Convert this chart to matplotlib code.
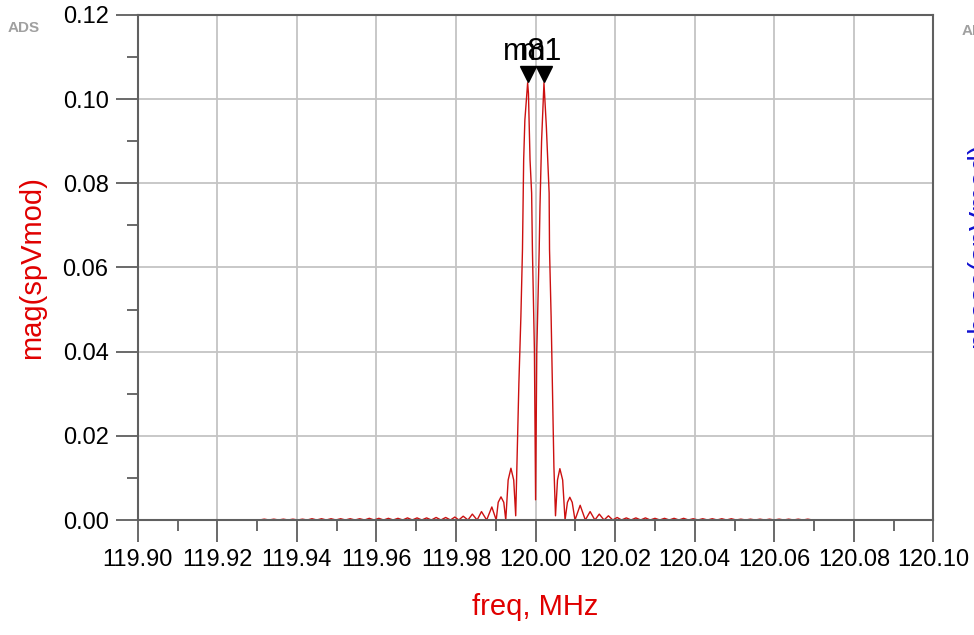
import matplotlib.pyplot as plt
from matplotlib.ticker import MultipleLocator, FormatStrFormatter
from matplotlib import transforms

plt.rcParams['font.family'] = ['Liberation Sans', 'DejaVu Sans']

# spectrum of spVmod (freq in MHz, magnitude)
freq_mhz = [
    119.9000, 119.9306,
    # far left sidelobes
    119.9318, 119.9330, 119.9342, 119.9354, 119.9366, 119.9378, 119.9390, 119.9402,
    119.9414, 119.9426, 119.9438, 119.9450, 119.9462, 119.9474, 119.9486, 119.9498,
    119.9510, 119.9522, 119.9534, 119.9546, 119.9558, 119.9570, 119.9582, 119.9594,
    119.9606, 119.9618, 119.9630, 119.9642, 119.9654, 119.9666, 119.9678, 119.9690,
    119.9702, 119.9714, 119.9726, 119.9738, 119.9750, 119.9762, 119.9774, 119.9786,
    # near left sidelobes
    119.9797, 119.9807, 119.9818, 119.9830, 119.9841, 119.9853, 119.9864, 119.9877,
    119.9890, 119.9901, 119.9906, 119.9913, 119.9920, 119.9925, 119.9931, 119.9938,
    119.9945, 119.9950,
    # main lobes
    119.9953, 119.9958, 119.9963, 119.9967, 119.9970, 119.9973, 119.9980, 119.9982,
    119.9986, 119.9990, 119.9992, 119.9997, 120.0000, 120.0003, 120.0009, 120.0011,
    120.0015, 120.0021, 120.0027, 120.0034, 120.0035, 120.0039, 120.0042, 120.0046,
    120.0050,
    # near right sidelobes
    120.0055, 120.0061, 120.0068, 120.0074, 120.0080, 120.0086, 120.0092, 120.0099,
    120.0112, 120.0125, 120.0137, 120.0149, 120.0160, 120.0172, 120.0183, 120.0194,
    120.0205, 120.0216, 120.0228, 120.0240,
    # far right sidelobes
    120.0252, 120.0264, 120.0276, 120.0288, 120.0300, 120.0312, 120.0324, 120.0336,
    120.0348, 120.0360, 120.0372, 120.0384, 120.0396, 120.0408, 120.0420, 120.0432,
    120.0444, 120.0456, 120.0468, 120.0480, 120.0492, 120.0504, 120.0516, 120.0528,
    120.0540, 120.0552, 120.0564, 120.0576, 120.0588, 120.0600, 120.0612, 120.0624,
    120.0636, 120.0648, 120.0660, 120.0672, 120.0684, 120.0696, 120.1000,
]
mag = [
    0.0, 0.0,
    0.0002, 0.0, 0.0002, 0.0, 0.0002, 0.0, 0.0002, 0.0,
    0.0002, 0.0, 0.0003, 0.0, 0.0003, 0.0, 0.0003, 0.0,
    0.0003, 0.0, 0.0003, 0.0, 0.0003, 0.0, 0.0004, 0.0,
    0.0004, 0.0, 0.0004, 0.0, 0.0004, 0.0, 0.0005, 0.0,
    0.0005, 0.0, 0.0005, 0.0, 0.0006, 0.0, 0.0006, 0.0,
    0.0007, 0.0, 0.0009, 0.0, 0.0014, 0.0, 0.0020, 0.0,
    0.0031, 0.0, 0.0042, 0.0055, 0.0042, 0.0, 0.0095, 0.0123,
    0.0095, 0.0010,
    0.0127, 0.0326, 0.0483, 0.0642, 0.0856, 0.0950, 0.1039, 0.1014,
    0.0856, 0.0777, 0.0642, 0.0404, 0.0048, 0.0404, 0.0642, 0.0745,
    0.0900, 0.1039, 0.0935, 0.0777, 0.0642, 0.0483, 0.0326, 0.0127,
    0.0010,
    0.0095, 0.0122, 0.0095, 0.0, 0.0042, 0.0054, 0.0042, 0.0,
    0.0035, 0.0, 0.0020, 0.0, 0.0014, 0.0, 0.0010, 0.0,
    0.0006, 0.0, 0.0005, 0.0,
    0.0005, 0.0, 0.0005, 0.0, 0.0004, 0.0, 0.0004, 0.0,
    0.0004, 0.0, 0.0004, 0.0, 0.0003, 0.0, 0.0003, 0.0,
    0.0003, 0.0, 0.0003, 0.0, 0.0003, 0.0, 0.0002, 0.0,
    0.0002, 0.0, 0.0002, 0.0, 0.0002, 0.0, 0.0002, 0.0,
    0.0002, 0.0, 0.0002, 0.0, 0.0002, 0.0, 0.0,
]

marker_names = ['m8', 'm1']
marker_freq = [119.9980, 120.0021]
marker_mag = [0.1039, 0.1039]

fig = plt.figure(figsize=(9.74, 6.35), dpi=100)
ax = fig.add_axes([0.1414, 0.1811, 0.8170, 0.7953])

ax.plot(freq_mhz, mag, color='#cc1010', lw=1.0)

# markers: triangle tips sit on the peaks
up = transforms.offset_copy(ax.transData, fig=fig, x=0, y=6, units='points')
ax.plot(marker_freq, marker_mag, 'v', color='black', ms=12, transform=up, clip_on=False)
lab0 = transforms.offset_copy(ax.transData, fig=fig, x=-18, y=16.5, units='points')
lab1 = transforms.offset_copy(ax.transData, fig=fig, x=-17, y=16.5, units='points')
ax.text(marker_freq[0], marker_mag[0], marker_names[0], transform=lab0,
        fontsize=22, ha='left', va='baseline', color='black')
ax.text(marker_freq[1], marker_mag[1], marker_names[1], transform=lab1,
        fontsize=22, ha='left', va='baseline', color='black')

ax.set_xlim(119.90, 120.10)
ax.set_ylim(0.0, 0.12)
ax.xaxis.set_major_locator(MultipleLocator(0.02))
ax.xaxis.set_minor_locator(MultipleLocator(0.01))
ax.yaxis.set_major_locator(MultipleLocator(0.02))
ax.yaxis.set_minor_locator(MultipleLocator(0.01))
ax.xaxis.set_major_formatter(FormatStrFormatter('%.2f'))
ax.yaxis.set_major_formatter(FormatStrFormatter('%.2f'))

ax.tick_params(which='major', length=16, width=1.2, color='#505050',
               labelsize=17, labelcolor='black', pad=5)
ax.tick_params(which='minor', length=8, width=1.2, color='#505050')
ax.grid(which='major', color='#c4c4c4', lw=1.3)
ax.set_axisbelow(True)
for s in ax.spines.values():
    s.set_color('#606060')
    s.set_linewidth(1.5)

ax.set_xlabel('freq, MHz', color='#e00000', fontsize=21, labelpad=16)
ax.set_ylabel('mag(spVmod)', color='#e00000', fontsize=21, labelpad=12)

fig.text(0.008, 0.95, 'ADS', color='#a0a0a0', fontsize=11, fontweight='bold')
fig.text(0.987, 0.945, 'ADS', color='#a0a0a0', fontsize=11, fontweight='bold')
fig.text(0.992, 0.614, 'phase(spVmod)', color='#1010d0', fontsize=21,
         rotation=90, ha='left', va='center')

fig.savefig('out.png', dpi=100)
